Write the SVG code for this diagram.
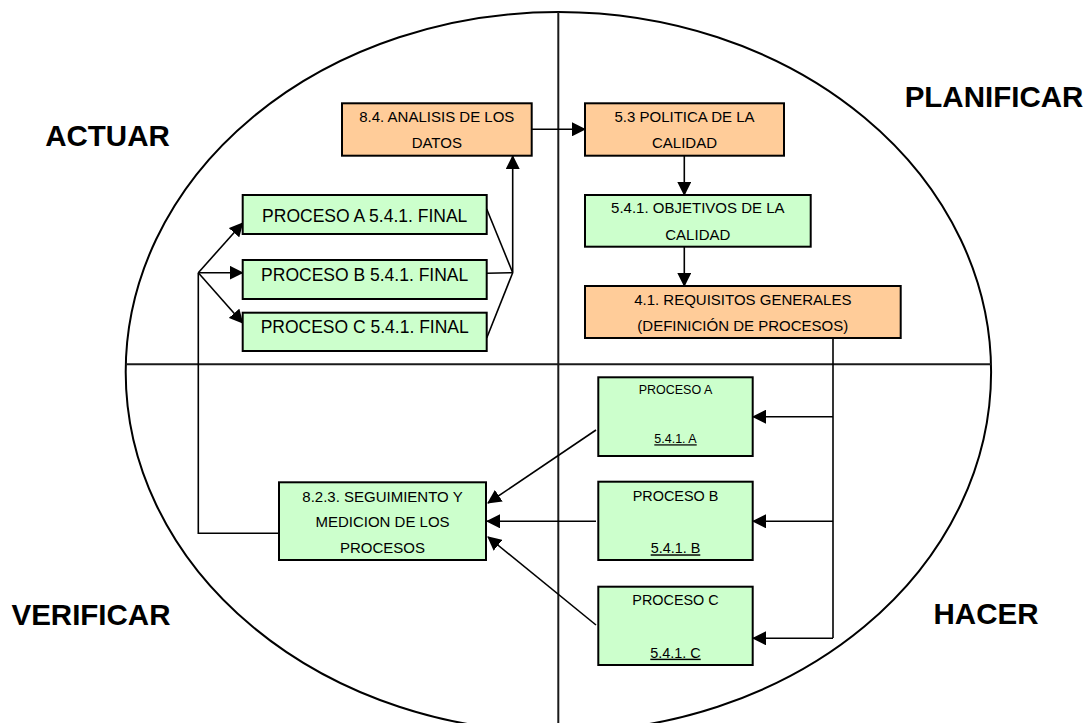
<svg xmlns="http://www.w3.org/2000/svg" width="1091" height="723" viewBox="0 0 1091 723">
<defs>
<marker id="arr" markerUnits="userSpaceOnUse" markerWidth="14" markerHeight="14" viewBox="0 0 14 14" refX="13" refY="7" orient="auto">
<path d="M0,0 L14,7 L0,14 Z" fill="#000"/>
</marker>
<style>
.orange{fill:#FFCC99;stroke:#000;stroke-width:2}
.green{fill:#CCFFCC;stroke:#000;stroke-width:2}
.t{font-family:"Liberation Sans",Arial,sans-serif;font-size:15px;fill:#000;text-anchor:middle}
.tb{font-family:"Liberation Sans",Arial,sans-serif;font-size:17.5px;fill:#000;text-anchor:middle}
.big{font-family:"Liberation Sans",Arial,sans-serif;font-size:29.5px;font-weight:bold;fill:#000;text-anchor:middle}
.c{fill:none;stroke:#000;stroke-width:1.6}
.a{fill:none;stroke:#000;stroke-width:1.6;marker-end:url(#arr)}
.u{text-decoration:underline}
</style>
</defs>
<rect width="1091" height="723" fill="#fff"/>
<g id="background">
<ellipse cx="558.4" cy="372" rx="432.7" ry="360" fill="none" stroke="#000" stroke-width="2"/>
<line x1="558.3" y1="12" x2="558.3" y2="723" stroke="#1a1a1a" stroke-width="2"/>
<line x1="125.7" y1="364.3" x2="991" y2="364.3" stroke="#1a1a1a" stroke-width="2"/>
</g>
<g id="labels">
<text class="big" x="107.5" y="146">ACTUAR</text>
<text class="big" x="994" y="107">PLANIFICAR</text>
<text class="big" x="91" y="625">VERIFICAR</text>
<text class="big" x="986" y="624">HACER</text>
</g>
<g id="connectors">
<line class="a" x1="531" y1="129.3" x2="585" y2="129.3"/>
<line class="a" x1="684.3" y1="156" x2="684.3" y2="195"/>
<line class="a" x1="684.3" y1="247" x2="684.3" y2="286"/>
<polyline class="c" points="833,338 833,638"/>
<line class="a" x1="833" y1="416.7" x2="753" y2="416.7"/>
<line class="a" x1="833" y1="521.3" x2="753" y2="521.3"/>
<line class="a" x1="833" y1="638.3" x2="753" y2="638.3"/>
<line class="a" x1="596" y1="430" x2="488" y2="503"/>
<line class="a" x1="596" y1="521.3" x2="487" y2="521.3"/>
<line class="a" x1="596" y1="625" x2="488" y2="537"/>
<polyline class="c" points="279,533.3 198.3,533.3 198.3,272.7"/>
<line class="a" x1="198.3" y1="272.7" x2="242.7" y2="223"/>
<line class="a" x1="198.3" y1="272.7" x2="242.7" y2="272.7"/>
<line class="a" x1="198.3" y1="272.7" x2="242.7" y2="323"/>
<line class="c" x1="486.7" y1="209" x2="512.7" y2="272.7"/>
<line class="c" x1="486.7" y1="273.3" x2="512.7" y2="272.7"/>
<line class="c" x1="486.7" y1="338" x2="512.7" y2="272.7"/>
<line class="a" x1="512.7" y1="272.7" x2="512.7" y2="156"/>
</g>
<g id="analisis">
<rect class="orange" x="342" y="103.3" width="189.7" height="52.4"/>
<text class="t" x="436.8" y="122.3">8.4. ANALISIS DE LOS</text>
<text class="t" x="436.8" y="147.7">DATOS</text>
</g>
<g id="politica">
<rect class="orange" x="585" y="103.3" width="199" height="52.4"/>
<text class="t" x="684.5" y="122.3">5.3 POLITICA DE LA</text>
<text class="t" x="684.5" y="147.7">CALIDAD</text>
</g>
<g id="objetivos">
<rect class="green" x="585" y="195" width="225.7" height="51.7"/>
<text class="t" x="697.8" y="213.3">5.4.1. OBJETIVOS DE LA</text>
<text class="t" x="697.8" y="240">CALIDAD</text>
</g>
<g id="requisitos">
<rect class="orange" x="585" y="286" width="315.7" height="52"/>
<text class="t" x="742.8" y="305">4.1. REQUISITOS GENERALES</text>
<text class="t" x="742.8" y="330.5">(DEFINICIÓN DE PROCESOS)</text>
</g>
<g id="finalA">
<rect class="green" x="242.7" y="195" width="244" height="39"/>
<text class="tb" x="364.7" y="222">PROCESO A 5.4.1. FINAL</text>
</g>
<g id="finalB">
<rect class="green" x="242.7" y="260" width="244" height="39"/>
<text class="tb" x="364.7" y="280.7">PROCESO B 5.4.1. FINAL</text>
</g>
<g id="finalC">
<rect class="green" x="242.7" y="312.7" width="244" height="38.3"/>
<text class="tb" x="364.7" y="333">PROCESO C 5.4.1. FINAL</text>
</g>
<g id="seguimiento">
<rect class="green" x="279" y="482.3" width="207" height="77.7"/>
<text class="t" x="382.5" y="501.7">8.2.3. SEGUIMIENTO Y</text>
<text class="t" x="382.5" y="526.7">MEDICION DE LOS</text>
<text class="t" x="382.5" y="552.7">PROCESOS</text>
</g>
<g id="procesoA">
<rect class="green" x="598.3" y="377.3" width="154.4" height="78.7"/>
<text class="t" x="675.5" y="394.3" style="font-size:12.5px">PROCESO A</text>
<text class="t u" x="675.5" y="443.3" style="font-size:12.5px">5.4.1. A</text>
</g>
<g id="procesoB">
<rect class="green" x="598.3" y="481.7" width="154.4" height="78.3"/>
<text class="t" x="675.5" y="500.7" style="font-size:14.4px">PROCESO B</text>
<text class="t u" x="675.5" y="553.3" style="font-size:14.4px">5.4.1. B</text>
</g>
<g id="procesoC">
<rect class="green" x="598.3" y="586.7" width="154.4" height="78.3"/>
<text class="t" x="675.5" y="605" style="font-size:14.4px">PROCESO C</text>
<text class="t u" x="675.5" y="657.7" style="font-size:14.4px">5.4.1. C</text>
</g>
</svg>
